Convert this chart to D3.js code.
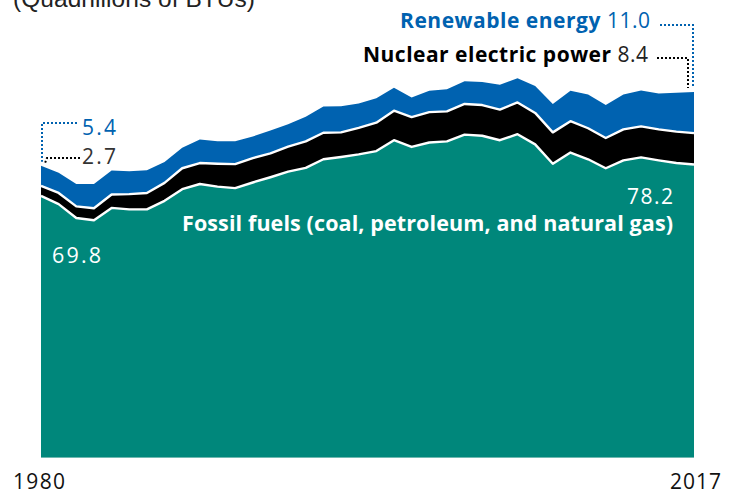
<!DOCTYPE html>
<html><head><meta charset="utf-8">
<script src="https://cdn.jsdelivr.net/npm/d3@7"></script>
<style>
html,body{margin:0;padding:0;background:#fff;}
svg{display:block;}
</style></head>
<body>
<script>
const years = d3.range(1980, 2018);
const fossil = [69.8,67.6,63.9,63.3,66.6,66.2,66.2,68.5,71.6,73.0,72.3,71.9,73.4,74.8,76.3,77.3,79.6,80.2,80.9,81.8,84.7,82.9,84.1,84.4,86.2,85.9,84.7,86.3,83.6,78.4,81.4,79.6,77.2,79.3,80.1,79.3,78.6,78.2];
const nuclear = [2.7,3.0,3.1,3.2,3.6,4.1,4.4,4.8,5.6,5.6,6.1,6.4,6.5,6.4,6.7,7.1,7.1,6.6,7.1,7.6,7.9,8.0,8.1,8.0,8.2,8.2,8.2,8.5,8.4,8.4,8.4,8.3,8.1,8.3,8.3,8.3,8.4,8.4];
const renewable = [5.4,5.4,6.0,6.5,6.4,6.1,6.1,5.6,5.5,6.3,6.0,6.1,5.8,6.1,6.0,6.6,7.0,7.0,6.5,6.5,6.1,5.2,5.7,5.9,6.1,6.2,6.6,6.5,7.2,7.6,8.1,9.0,8.8,9.3,9.6,9.6,10.4,11.0];
const xTickLabels = ["1980","2017"];
const seriesNames = ["Fossil fuels (coal, petroleum, and natural gas)","Nuclear electric power","Renewable energy"];
const unitLabel = "(Quadrillions of BTUs)";

const W = 737, H = 494;
const svg = d3.select("body").append("svg").attr("width", W).attr("height", H);

const x = d3.scaleLinear().domain([1980, 2017]).range([41, 694]);
const y = d3.scaleLinear().domain([0, 100]).range([457, 83]);

const rows = years.map((yr,i)=>({year:yr, fossil:fossil[i], nuclear:nuclear[i], renewable:renewable[i]}));
const stack = d3.stack().keys(["fossil","nuclear","renewable"]);
const series = stack(rows);
const colors = {fossil:"#00877b", nuclear:"#000000", renewable:"#0062b0"};

const area = d3.area().x(d=>x(d.data.year)).y0(d=>y(d[0])).y1(d=>y(d[1]));
svg.selectAll("path.layer").data(series).join("path")
  .attr("class","layer").attr("d", area).attr("fill", d=>colors[d.key]);

const topLine = d3.line().x(d=>x(d.data.year)).y(d=>y(d[1]));
svg.selectAll("path.sep").data(series.slice(0,2)).join("path")
  .attr("class","sep").attr("d", topLine).attr("fill","none")
  .attr("stroke","#fff").attr("stroke-width",2.4).attr("stroke-linejoin","round");

// baseline
svg.append("line").attr("x1", x(1980)).attr("x2", x(2017)).attr("y1", y(0)+0.5).attr("y2", y(0)+0.5)
  .attr("stroke","#6fb8b0").attr("stroke-width",1);

const font = "'Open Sans', Lato, sans-serif";
function fit(sel, w){ sel.attr("textLength", w).attr("lengthAdjust","spacing"); return sel; }

// x labels
fit(svg.append("text").attr("x", 13).attr("y", 489).text(xTickLabels[0])
  .attr("font-family", font).attr("font-size", 21).attr("fill","#111"), 52);
fit(svg.append("text").attr("x", 721).attr("y", 489).attr("text-anchor","end").text(xTickLabels[1])
  .attr("font-family", font).attr("font-size", 21).attr("fill","#111"), 51);

// unit label (cut off at top, as in the reference)
fit(svg.append("text").attr("x", 13).attr("y", 7).text(unitLabel)
  .attr("font-family","'Liberation Sans', Arial, sans-serif").attr("font-size", 24.5).attr("fill","#222"), 242);

// Fossil label
const last = fossil.length-1;
fit(svg.append("text").attr("x", 673).attr("y", 231).attr("text-anchor","end")
  .attr("font-family", font).attr("font-weight","bold").attr("font-size", 21.5).attr("fill","#fff")
  .text(seriesNames[0]), 491);
fit(svg.append("text").attr("x", 673).attr("y", 204).attr("text-anchor","end")
  .attr("font-family", font).attr("font-size", 21).attr("fill","#fff")
  .text(fossil[last].toFixed(1)), 46);
fit(svg.append("text").attr("x", 52).attr("y", 263)
  .attr("font-family", font).attr("font-size", 21.5).attr("fill","#fff")
  .text(fossil[0].toFixed(1)), 49);

// right labels
const rl = svg.append("text").attr("x", 650).attr("y", 28).attr("text-anchor","end")
  .attr("font-family", font).attr("font-size", 21).attr("fill","#0062b0");
rl.append("tspan").attr("font-weight","bold").text(seriesNames[2]);
rl.append("tspan").text(" " + renewable[last].toFixed(1));
fit(rl, 250);
const nl = svg.append("text").attr("x", 648).attr("y", 62).attr("text-anchor","end")
  .attr("font-family", font).attr("font-size", 21).attr("fill","#000");
nl.append("tspan").attr("font-weight","bold").text(seriesNames[1]);
nl.append("tspan").attr("fill","#222").text(" " + nuclear[last].toFixed(1));
fit(nl, 285);

// left labels
fit(svg.append("text").attr("x", 82).attr("y", 135)
  .attr("font-family", font).attr("font-size", 21).attr("fill","#0062b0").text(renewable[0].toFixed(1)), 34);
fit(svg.append("text").attr("x", 82).attr("y", 164)
  .attr("font-family", font).attr("font-size", 21).attr("fill","#333").text(nuclear[0].toFixed(1)), 34);

// dotted leaders
const dot = (pts, c) => svg.append("path").attr("d", d3.line()(pts)).attr("fill","none")
  .attr("stroke", c).attr("stroke-width", 2).attr("stroke-dasharray","2,2");
const tot2017 = y(fossil[last]+nuclear[last]+renewable[last]);
dot([[660,25],[693,25],[693,tot2017-4]], "#0062b0");
dot([[657,58],[688,58],[688,tot2017-4]], "#000");
const tot1980 = y(fossil[0]+nuclear[0]+renewable[0]);
dot([[77,123],[42,123],[42,tot1980-4]], "#0062b0");
dot([[80,158],[47,158],[45,163]], "#000");
</script>
</body></html>
